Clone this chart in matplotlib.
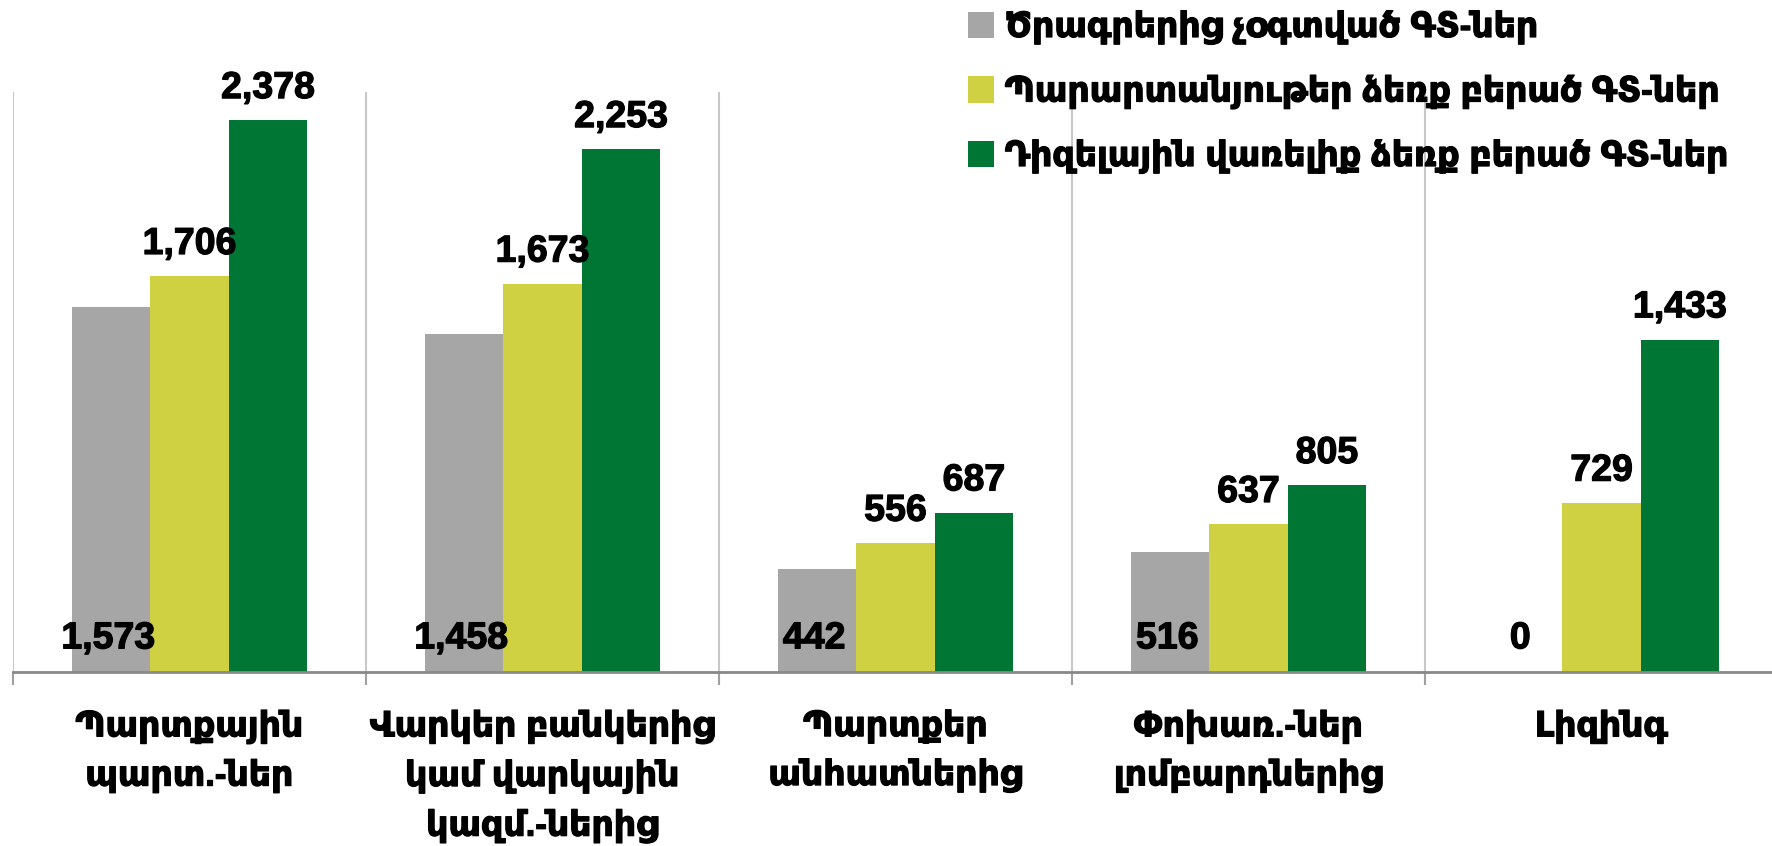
import numpy as np
import matplotlib
matplotlib.use("Agg")
import matplotlib.pyplot as plt
import matplotlib.patheffects as pe
from matplotlib.patches import Patch

plt.rcParams["font.family"] = ["Liberation Sans", "DejaVu Sans"]
plt.rcParams["font.weight"] = "bold"

# Data
categories = [
    "Պարտքային\nպարտ.-ներ",
    "Վարկեր բանկերից\nկամ վարկային\nկազմ.-ներից",
    "Պարտքեր\nանհատներից",
    "Փոխառ.-ներ\nլոմբարդներից",
    "Լիզինգ",
]
series_names = [
    "Ծրագրերից չօգտված ԳՏ-ներ",
    "Պարարտանյութեր ձեռք բերած ԳՏ-ներ",
    "Դիզելային վառելիք ձեռք բերած ԳՏ-ներ",
]
not_used = [1573, 1458, 442, 516, 0]
fertilizer = [1706, 1673, 556, 637, 729]
diesel = [2378, 2253, 687, 805, 1433]

colors = ["#A6A6A6", "#CFD143", "#007635"]
series = [not_used, fertilizer, diesel]

# slight stroke to get closer to the heavy reference font
heavy = [pe.withStroke(linewidth=0.9, foreground="black")]

fig = plt.figure(figsize=(17.72, 8.46), dpi=100)
ax = fig.add_axes([13 / 1772, 174 / 846, 1765 / 1772, 580 / 846])

x = np.arange(len(categories))
w = 1 / 4.5
for k, (vals, col) in enumerate(zip(series, colors)):
    pos = x + (k - 1) * w
    ax.bar(pos, vals, width=w, color=col, zorder=2)
    for px, v in zip(pos, vals):
        txt = f"{v:,}"
        if k == 0:
            # inside base
            ax.annotate(txt, (px, 0), xytext=(-2, 17), textcoords="offset points",
                        ha="center", va="baseline", fontsize=27, fontweight="bold",
                        zorder=4, path_effects=heavy)
        else:
            ax.annotate(txt, (px, v), xytext=(0, 16), textcoords="offset points",
                        ha="center", va="baseline", fontsize=27, fontweight="bold",
                        zorder=4, path_effects=heavy)

ax.set_xlim(-0.5, len(categories) - 0.5)
ax.set_ylim(0, 2500)
ax.set_yticks([])

# category separators
bounds = np.arange(-0.5, len(categories), 1.0)
ax.set_xticks(bounds, minor=True)
ax.tick_params(axis="x", which="minor", length=9.5, width=1.5, color="#A0A0A0", direction="out")
ax.grid(True, axis="x", which="minor", color="#C8C8C8", linewidth=1.5, zorder=0)
ax.set_xticks(x)
ax.set_xticklabels(categories, fontsize=25, fontweight="bold", linespacing=1.55)
ax.tick_params(axis="x", which="major", length=0, pad=27)
for t in ax.get_xticklabels():
    t.set_path_effects(heavy)

for s in ["top", "right", "left"]:
    ax.spines[s].set_visible(False)
ax.spines["bottom"].set_color("#888888")
ax.spines["bottom"].set_linewidth(2)

handles = [Patch(facecolor=c) for c in colors]
leg = fig.legend(handles, series_names, loc="upper left", bbox_to_anchor=(937 / 1772, 1.025),
                 frameon=False, handlelength=0.75, handleheight=0.8,
                 handletextpad=0.3, labelspacing=0.85, prop={"weight": "bold", "size": 25})
for t in leg.get_texts():
    t.set_path_effects(heavy)

fig.savefig("out.png", dpi=100)
